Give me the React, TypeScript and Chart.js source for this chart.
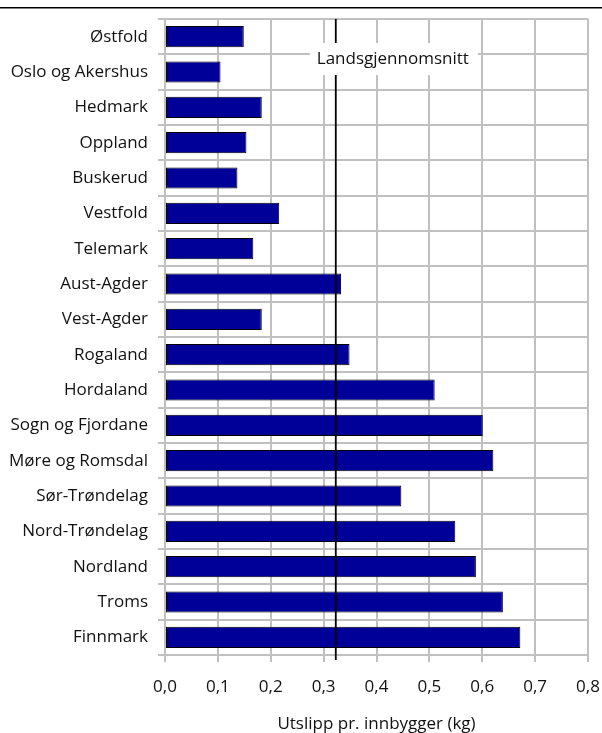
import React, { useEffect, useRef } from 'react';
import { Chart, registerables } from 'chart.js';

Chart.register(...registerables);

const categories = [
  'Østfold', 'Oslo og Akershus', 'Hedmark', 'Oppland', 'Buskerud', 'Vestfold',
  'Telemark', 'Aust-Agder', 'Vest-Agder', 'Rogaland', 'Hordaland', 'Sogn og Fjordane',
  'Møre og Romsdal', 'Sør-Trøndelag', 'Nord-Trøndelag', 'Nordland', 'Troms', 'Finnmark',
];
const emissions = [
  0.149, 0.105, 0.183, 0.154, 0.137, 0.216,
  0.167, 0.333, 0.183, 0.349, 0.510, 0.601,
  0.621, 0.447, 0.549, 0.588, 0.639, 0.672,
];
const nationalAverage = 0.323;
const averageLabel = 'Landsgjennomsnitt';
const axisTitle = 'Utslipp pr. innbygger (kg)';
const xMin = 0;
const xMax = 0.8;
const xStep = 0.1;

const FONT = '"Open Sans", "Noto Sans", sans-serif';
const GRID = '#c0c0c0';

const decorPlugin = {
  id: 'decor',
  afterDraw(chart: any) {
    const { ctx, width } = chart;
    ctx.save();
    ctx.fillStyle = '#000';
    ctx.fillRect(0, 7, width, 1.5);
    ctx.restore();
  },
  afterDatasetsDraw(chart: any) {
    const { ctx, chartArea, scales } = chart;
    const x = scales.x.getPixelForValue(nationalAverage);
    ctx.save();
    ctx.strokeStyle = '#000';
    ctx.lineWidth = 1.8;
    ctx.beginPath();
    ctx.moveTo(x, chartArea.top);
    ctx.lineTo(x, chartArea.bottom + 5);
    ctx.stroke();
    ctx.font = '17px ' + FONT;
    const w = ctx.measureText(averageLabel).width;
    const bx = x - 26;
    const by = chartArea.top + 24;
    const bw = w + 16;
    const bh = 32;
    ctx.fillStyle = '#fff';
    ctx.fillRect(bx, by, bw, bh);
    ctx.fillStyle = '#111';
    ctx.textAlign = 'left';
    ctx.textBaseline = 'middle';
    ctx.fillText(averageLabel, bx + 7, by + bh / 2);
    ctx.restore();
  },
};

export default function App() {
  const ref = useRef<HTMLCanvasElement | null>(null);

  useEffect(() => {
    document.body.style.margin = '0';
    if (!ref.current) return;
    Chart.defaults.font.family = FONT;
    Chart.defaults.color = '#111';
    const chart = new Chart(ref.current, {
      type: 'bar',
      data: {
        labels: categories,
        datasets: [
          {
            data: emissions,
            backgroundColor: '#000099',
            borderColor: '#000000',
            borderWidth: 1,
            borderSkipped: false,
            categoryPercentage: 1,
            barPercentage: 0.6,
          },
        ],
      },
      options: {
        indexAxis: 'y',
        animation: false,
        responsive: true,
        maintainAspectRatio: false,
        layout: { padding: { top: 19, right: 14, left: 0, bottom: 0 } },
        plugins: { legend: { display: false }, tooltip: { enabled: false } },
        scales: {
          x: {
            type: 'linear',
            min: xMin,
            max: xMax,
            afterFit: (s: any) => {
              s.height = 78;
              s.paddingLeft = 0;
              s.paddingRight = 0;
            },
            ticks: {
              stepSize: xStep,
              padding: 15,
              font: { size: 17 },
              color: '#111',
              callback: (v: any) => Number(v).toFixed(1).replace('.', ','),
            },
            grid: { color: GRID, lineWidth: 2, tickLength: 7, tickColor: GRID },
            border: { display: true, color: GRID, width: 2 },
            title: {
              display: true,
              text: axisTitle,
              font: { size: 17, lineHeight: 1 },
              color: '#111',
              padding: { top: 0, bottom: 0 },
            },
          },
          y: {
            type: 'category',
            afterFit: (s: any) => {
              s.width = 165;
              s.paddingTop = 0;
              s.paddingBottom = 0;
            },
            ticks: { padding: 10, font: { size: 17 }, color: '#111' },
            grid: { color: GRID, lineWidth: 2, tickLength: 7, tickColor: GRID, offset: true },
            border: { display: true, color: GRID, width: 2 },
          },
        },
      },
      plugins: [decorPlugin],
    });
    return () => chart.destroy();
  }, []);

  return (
    <div style={{ width: 602, height: 733, position: 'relative' }}>
      <canvas ref={ref} />
    </div>
  );
}
